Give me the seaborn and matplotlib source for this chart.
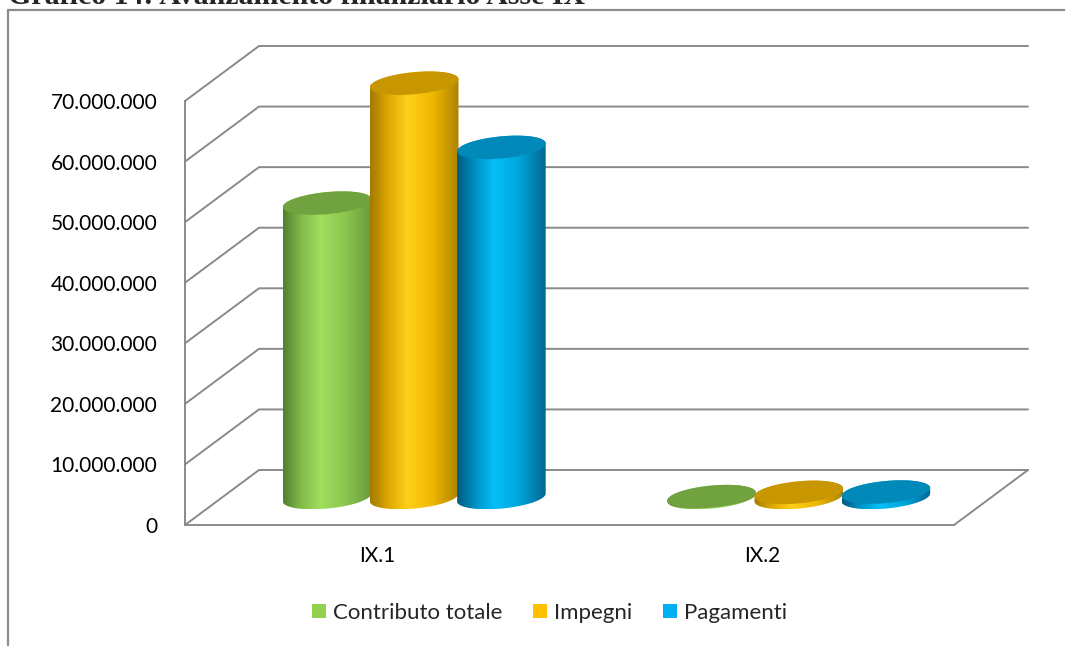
import numpy as np
import pandas as pd
import matplotlib
matplotlib.use("Agg")
import matplotlib.pyplot as plt
import seaborn as sns
from matplotlib.colors import LinearSegmentedColormap
from matplotlib.patches import Polygon, Patch
from matplotlib.ticker import FuncFormatter, FixedLocator
from matplotlib.lines import Line2D

# ---- data -------------------------------------------------------------
assi = ["IX.1", "IX.2"]
voci = ["Contributo totale", "Impegni", "Pagamenti"]
contributo_totale = [48_600_000, 150_000]
impegni = [68_400_000, 850_000]
pagamenti = [57_800_000, 900_000]
y_ticks = [0, 10_000_000, 20_000_000, 30_000_000, 40_000_000,
           50_000_000, 60_000_000, 70_000_000]
titolo = "Grafico 14: Avanzamento finanziario Asse IX"

# ---- styling ------------------------------------------------------------
colori = {"Contributo totale": "#92d050", "Impegni": "#ffc000", "Pagamenti": "#00b0f0"}
# side shading (left -> right) and top-face colour of each cylinder series
ombre = {
    "Contributo totale": (["#527f2c", "#80ba4a", "#a0df5e", "#8cc650", "#689a3a"], "#70a340"),
    "Impegni": (["#a27a00", "#dca700", "#ffd01a", "#f0b800", "#ad8300"], "#c79600"),
    "Pagamenti": (["#005a80", "#0090c4", "#05c0f8", "#00a5dc", "#006690"], "#0089b9"),
}
GRID = "#8a8a8a"
LW = 1.4
FONT_SIZE = 15

W, H, DPI = 1065, 646, 100
sns.set_style("white")
plt.rcParams["font.family"] = ["Lato", "DejaVu Sans"]

fig = plt.figure(figsize=(W / DPI, H / DPI), dpi=DPI)


def box_from_px(x0, y0, x1, y1):
    """Figure-fraction rectangle from pixel edges measured from the top-left."""
    return [x0 / W, 1 - y1 / H, (x1 - x0) / W, (y1 - y0) / H]


ax = fig.add_axes(box_from_px(185, 101, 954, 525))

df = pd.DataFrame({
    "Asse": assi * 3,
    "Voce": np.repeat(voci, len(assi)),
    "Valore": contributo_totale + impegni + pagamenti,
})
sns.barplot(data=df, x="Asse", y="Valore", hue="Voce", order=assi, hue_order=voci,
            palette=colori, width=0.68, gap=0, saturation=1, errorbar=None,
            legend=False, ax=ax)

XLIM = (-0.5, 1.5)
YLIM = (0, 70_000_000)
ax.set_xlim(*XLIM)
ax.set_ylim(*YLIM)

# pixel scale of the front plane, used for the oblique depth offset
px_x = ax.bbox.width / (XLIM[1] - XLIM[0])
px_y = ax.bbox.height / (YLIM[1] - YLIM[0])
DX = 74 / px_x
DY = 55 / px_y

# back wall gridlines + left wall diagonals
for v in y_ticks:
    ax.plot([XLIM[0], XLIM[0] + DX, XLIM[1] + DX], [v, v + DY, v + DY],
            color=GRID, lw=LW, clip_on=False, zorder=1, solid_joinstyle="miter")
# right edge of the floor
ax.plot([XLIM[1], XLIM[1] + DX], [0, DY], color=GRID, lw=LW, clip_on=False, zorder=1)

TILT = np.deg2rad(5.5)
B_PX = 11.0  # half height of the elliptic faces, in pixels


def ellisse(cx, cy, a_px, t):
    X = a_px * np.cos(t) * np.cos(TILT) - B_PX * np.sin(t) * np.sin(TILT)
    Y = a_px * np.cos(t) * np.sin(TILT) + B_PX * np.sin(t) * np.cos(TILT)
    return np.column_stack([cx + X / px_x, cy + Y / px_y])


grad = np.linspace(0, 1, 256)[np.newaxis, :]
for s, (voce, container) in enumerate(zip(voci, ax.containers)):
    side, top = ombre[voce]
    cmap = LinearSegmentedColormap.from_list(voce, list(zip([0, 0.2, 0.42, 0.7, 1], side)))
    for bar in container:
        bar.set_visible(False)
        v = bar.get_height()
        cx = bar.get_x() + bar.get_width() / 2 + DX / 2
        a_px = bar.get_width() * px_x * 1.02 / 2
        y0, y1 = DY / 2, v + DY / 2
        body = np.vstack([
            ellisse(cx, y0, a_px, np.linspace(np.pi, 2 * np.pi, 80)),
            ellisse(cx, y1, a_px, np.linspace(0, np.pi, 80)),
        ])
        clip = Polygon(body, closed=True, transform=ax.transData)
        z = 3 + s
        im = ax.imshow(grad, cmap=cmap, aspect="auto", interpolation="bilinear",
                       extent=(body[:, 0].min(), body[:, 0].max(),
                               body[:, 1].min(), body[:, 1].max()),
                       origin="lower", zorder=z)
        im.set_clip_path(clip)
        im.set_clip_box(fig.bbox)
        ax.add_patch(Polygon(ellisse(cx, y1, a_px, np.linspace(0, 2 * np.pi, 160)),
                             closed=True, facecolor=top, edgecolor="none",
                             clip_on=False, zorder=z + 0.5))

ax.set_xlim(*XLIM)
ax.set_ylim(*YLIM)
ax.set_aspect("auto")

# ---- axes ---------------------------------------------------------------
for side in ("top", "right"):
    ax.spines[side].set_visible(False)
for side in ("left", "bottom"):
    ax.spines[side].set_color(GRID)
    ax.spines[side].set_linewidth(LW)
    ax.spines[side].set_zorder(2)

ax.yaxis.set_major_locator(FixedLocator(y_ticks))
ax.yaxis.set_major_formatter(FuncFormatter(lambda v, _: f"{int(v):,}".replace(",", ".")))
ax.tick_params(axis="y", length=5, width=LW, color=GRID, pad=15,
               labelsize=FONT_SIZE, labelcolor="black")
ax.set_xticks(range(len(assi)), assi)
ax.set_xticks([-0.5, 0.5, 1.5], minor=True)
ax.tick_params(axis="x", which="major", length=0, pad=15,
               labelsize=FONT_SIZE, labelcolor="black")
ax.tick_params(axis="x", which="minor", length=5, width=LW, color=GRID)
ax.set_xlabel("")
ax.set_ylabel("")
ax.grid(False)
ax.patch.set_alpha(0)

# ---- legend -------------------------------------------------------------
handles = [Patch(facecolor=colori[v], edgecolor="none", label=v) for v in voci]
fig.legend(handles=handles, loc="center", bbox_to_anchor=(549.5 / W, 1 - 613 / H),
           ncol=3, frameon=False, fontsize=16, handlelength=0.62,
           handleheight=0.62, handletextpad=0.3, columnspacing=1.4,
           borderaxespad=0, borderpad=0)

# ---- caption and surrounding frame ---------------------------------------
fig.text(8 / W, 1 - 4 / H, titolo, family="Liberation Serif", fontweight="bold",
         fontsize=21.5, ha="left", va="baseline")
fig.add_artist(Line2D([8 / W, 8 / W, 1.0], [0, 1 - 10 / H, 1 - 10 / H],
                      transform=fig.transFigure, color="#8c8c8c", lw=1.6))

fig.savefig("out.png", dpi=DPI)
